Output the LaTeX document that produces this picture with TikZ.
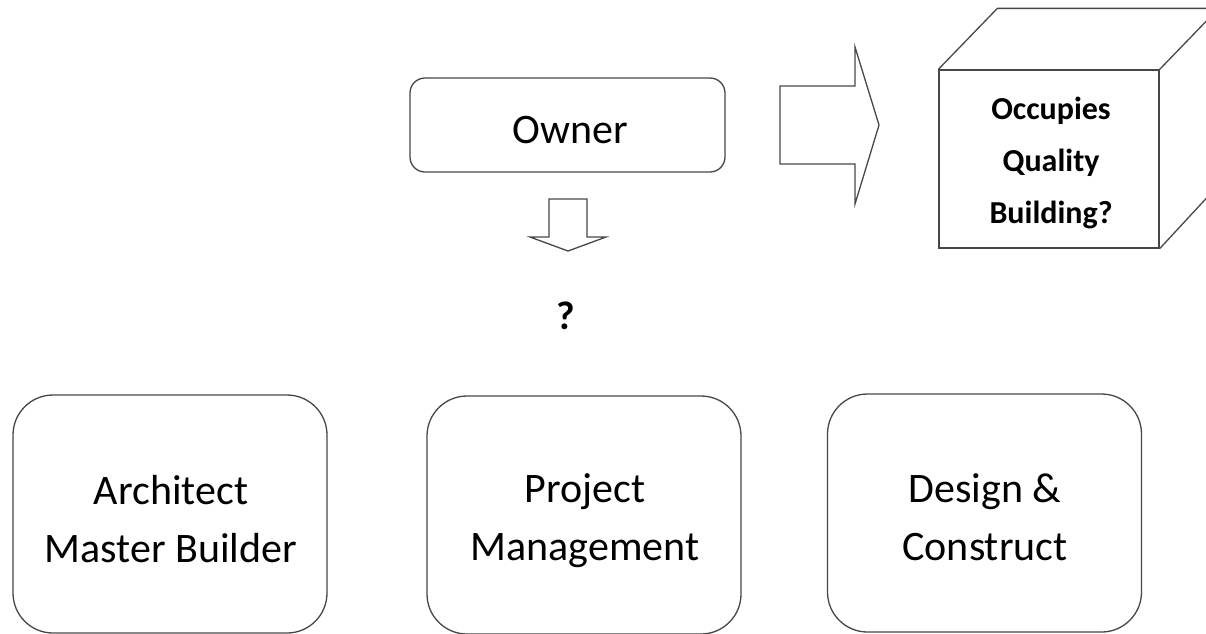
\documentclass[tikz,border=0pt]{standalone}
\usepackage{fontspec}
\setmainfont{Carlito}
\begin{document}
\begin{tikzpicture}[x=1pt,y=-1pt,
  ln/.style={draw=black!72,line width=1.3pt},
  plainbox/.style={ln,rounded corners=15pt,minimum width=315pt,minimum height=94pt},
  bigbox/.style={ln,rounded corners=40pt,minimum width=314pt,minimum height=238pt},
  bigtext/.style={align=center,font=\fontsize{42}{58}\selectfont},
  cubeface/.style={ln,minimum width=220pt,minimum height=178pt},
  cubetext/.style={align=center,font=\fontsize{32}{52}\selectfont\bfseries},
  blockarrow/.style={ln,line join=miter}
]
\clip (0,0) rectangle (1206,633);
\fill[white] (0,0) rectangle (1206,633);
% Owner
\node[plainbox] (owner) at (567.5,125) {};
\node[font=\fontsize{42}{42}\selectfont] (ownertxt) at (570,130) {Owner};
% down block arrow
\draw[blockarrow] (549,199) -- (587,199) -- (587,237) -- (606,237) -- (568,251) -- (530,237) -- (549,237) -- cycle;
\node[font=\fontsize{40}{40}\selectfont\bfseries] (q) at (566,316) {?};
% right block arrow
\draw[blockarrow] (780,86) -- (855,86) -- (855,47) -- (879,125) -- (855,204) -- (855,164) -- (780,164) -- cycle;
% cube
\node[cubeface] (front) at (1049,159) {};
\draw[ln,line join=miter] (front.north west) -- ++(59,-61) -- ++(220,0) -- ++(0,178) -- (front.south east);
\draw[ln] (front.north east) -- ++(59,-61);
\node[cubetext] (cubetxt) at (1051,163) {Occupies\\Quality\\Building?};
% bottom boxes
\node[bigbox] (amb) at (170,514) {};
\node[bigbox] (pm) at (584,515) {};
\node[bigbox] (dc) at (984.5,513) {};
\node[bigtext] (ambtxt) at (171,519) {Architect\\Master Builder};
\node[bigtext] (pmtxt) at (585,521) {Project\\Management};
\node[bigtext] (dctxt) at (985,517) {Design \&\\Construct};
\end{tikzpicture}
\end{document}
